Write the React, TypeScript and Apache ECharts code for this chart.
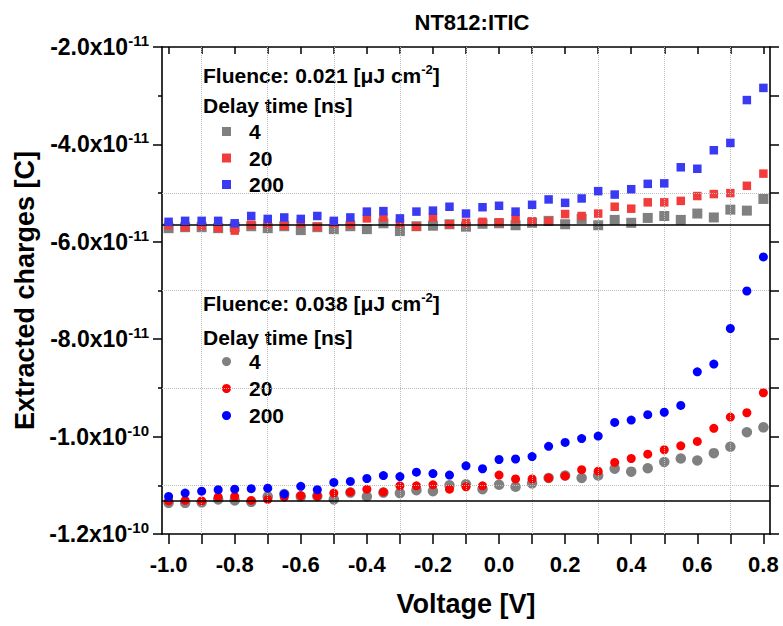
import React, { useEffect, useRef } from "react";
import * as echarts from "echarts";

const FONT = '"Liberation Sans", Arial, Helvetica, sans-serif';

// Voltage [V]
const VOLTAGE = [-1.0, -0.95, -0.9, -0.85, -0.8, -0.75, -0.7, -0.65, -0.6, -0.55, -0.5, -0.45, -0.4, -0.35, -0.3, -0.25, -0.2, -0.15, -0.1, -0.05, 0.0, 0.05, 0.1, 0.15, 0.2, 0.25, 0.3, 0.35, 0.4, 0.45, 0.5, 0.55, 0.6, 0.65, 0.7, 0.75, 0.8];

// Extracted charges, in units of 1e-11 C
// Fluence 0.021 µJ cm^-2 (squares)
const SQ_4 = [-5.72, -5.70, -5.70, -5.72, -5.70, -5.68, -5.72, -5.68, -5.76, -5.70, -5.74, -5.68, -5.74, -5.62, -5.78, -5.68, -5.67, -5.64, -5.69, -5.63, -5.62, -5.66, -5.61, -5.57, -5.64, -5.53, -5.66, -5.55, -5.61, -5.51, -5.47, -5.55, -5.42, -5.50, -5.34, -5.36, -5.12];
const SQ_20 = [-5.66, -5.70, -5.67, -5.72, -5.77, -5.65, -5.63, -5.67, -5.62, -5.69, -5.62, -5.64, -5.52, -5.50, -5.62, -5.69, -5.50, -5.64, -5.61, -5.59, -5.60, -5.53, -5.58, -5.58, -5.43, -5.47, -5.42, -5.28, -5.32, -5.19, -5.19, -5.16, -5.06, -5.02, -5.00, -4.85, -4.60];
const SQ_200 = [-5.59, -5.57, -5.57, -5.57, -5.62, -5.47, -5.53, -5.50, -5.53, -5.47, -5.57, -5.50, -5.38, -5.37, -5.52, -5.38, -5.36, -5.28, -5.42, -5.29, -5.26, -5.38, -5.24, -5.13, -5.20, -5.11, -4.96, -5.03, -4.92, -4.81, -4.80, -4.47, -4.50, -4.12, -3.97, -3.09, -2.84];
// Fluence 0.038 µJ cm^-2 (circles)
const CI_4 = [-11.36, -11.36, -11.35, -11.29, -11.31, -11.34, -11.23, -11.18, -11.23, -11.22, -11.29, -11.15, -11.23, -11.15, -11.16, -11.10, -11.12, -11.00, -10.98, -11.08, -10.99, -11.03, -10.96, -10.85, -10.80, -10.85, -10.80, -10.66, -10.72, -10.65, -10.52, -10.45, -10.49, -10.34, -10.21, -9.91, -9.81];
const CI_20 = [-11.32, -11.31, -11.32, -11.24, -11.23, -11.31, -11.29, -11.24, -11.21, -11.22, -11.16, -11.14, -11.08, -11.14, -11.01, -11.01, -10.99, -11.08, -11.03, -11.01, -10.79, -10.87, -10.87, -10.85, -10.81, -10.68, -10.71, -10.53, -10.45, -10.36, -10.27, -10.19, -10.10, -9.83, -9.60, -9.51, -9.10];
const CI_200 = [-11.23, -11.16, -11.12, -11.09, -11.08, -11.07, -11.06, -11.18, -11.02, -11.09, -10.94, -10.92, -10.86, -10.80, -10.82, -10.73, -10.76, -10.79, -10.60, -10.66, -10.47, -10.46, -10.41, -10.20, -10.12, -10.04, -9.99, -9.71, -9.66, -9.55, -9.50, -9.36, -8.67, -8.51, -7.78, -7.01, -6.31];

// Reference (dark) levels
const BASELINES = [-5.66, -11.32];

// Axis ticks / labels
const X_LABELS = [-1.0, -0.8, -0.6, -0.4, -0.2, 0.0, 0.2, 0.4, 0.6, 0.8];
const X_TICKS = [-1.0, -0.9, -0.8, -0.7, -0.6, -0.5, -0.4, -0.3, -0.2, -0.1, 0.0, 0.1, 0.2, 0.3, 0.4, 0.5, 0.6, 0.7, 0.8];
const Y_LABELS = [
  { value: -12, mant: "-1.2", exp: "-10" },
  { value: -10, mant: "-1.0", exp: "-10" },
  { value: -8, mant: "-8.0", exp: "-11" },
  { value: -6, mant: "-6.0", exp: "-11" },
  { value: -4, mant: "-4.0", exp: "-11" },
  { value: -2, mant: "-2.0", exp: "-11" },
];
const GRID_X = [-0.9, -0.7, -0.5, -0.3, -0.1, 0.1, 0.3, 0.5, 0.7];
const GRID_Y = [-11, -9, -7, -5];

const LEGEND_TEXT: Record<string, string> = {
  S4: "4", S20: "20", S200: "200", C4: "4", C20: "20", C200: "200",
};

const GRAY = "#808080";
const RED_SQ = "#f23c3c";
const BLUE_SQ = "#3a3af2";
const RED_CI = "#ff0000";
const BLUE_CI = "#0000ff";

function pairs(ys: number[]) {
  return VOLTAGE.map((v, i) => [v, ys[i]]);
}

const labelFont = { fontFamily: FONT, fontWeight: "bold" as const, color: "#000" };
const AXIS_LINE = { show: true, onZero: false, lineStyle: { color: "#000", width: 1.6 } };

function buildOption(): any {
  const scatter = (name: string, ys: number[], symbol: string, size: number, color: string, z: number) => ({
    type: "scatter",
    name,
    data: pairs(ys),
    symbol,
    symbolSize: size,
    itemStyle: { color, opacity: 1 },
    z,
    clip: false,
  });
  const supRich = {
    a: { fontFamily: FONT, fontWeight: "bold", fontSize: 21, fill: "#000" },
    s: { fontFamily: FONT, fontWeight: "bold", fontSize: 13, fill: "#000", padding: [0, 0, 11, 0] },
  };
  return {
    animation: false,
    backgroundColor: "#ffffff",
    title: {
      text: "NT812:ITIC",
      left: 467,
      top: 6,
      textAlign: "center",
      textStyle: { ...labelFont, fontSize: 22 },
    },
    grid: { left: 162, right: 13, top: 47, bottom: 92, containLabel: false },
    xAxis: [
      {
        type: "value",
        position: "bottom",
        min: -1.02,
        max: 0.82,
        name: "Voltage [V]",
        nameLocation: "middle",
        nameGap: 56,
        nameTextStyle: { ...labelFont, fontSize: 27 },
        axisLine: AXIS_LINE,
        axisTick: { show: true, inside: false, length: 10, customValues: X_TICKS, lineStyle: { color: "#000", width: 1.5 } },
        axisLabel: {
          show: true,
          customValues: X_LABELS,
          margin: 19,
          formatter: (v: number) => v.toFixed(1),
          ...labelFont,
          fontSize: 22,
        },
        splitLine: { show: false },
      },
      {
        type: "value",
        position: "top",
        min: -1.02,
        max: 0.82,
        axisLine: AXIS_LINE,
        axisTick: { show: true, inside: true, length: 7, customValues: X_TICKS, lineStyle: { color: "#000", width: 1.5 } },
        axisLabel: { show: false },
        splitLine: { show: false },
      },
    ],
    yAxis: [
      {
        type: "value",
        position: "left",
        min: -12,
        max: -2,
        interval: 2,
        name: "Extracted charges [C]",
        nameLocation: "middle",
        nameGap: 117,
        nameRotate: 90,
        nameTextStyle: { ...labelFont, fontSize: 27 },
        axisLine: AXIS_LINE,
        axisTick: { show: true, inside: false, length: 9, lineStyle: { color: "#000", width: 1.5 } },
        minorTick: { show: true, splitNumber: 2, length: 4, lineStyle: { color: "#000", width: 1.5 } },
        axisLabel: {
          show: true,
          margin: 13,
          formatter: (v: number) => {
            const t = Y_LABELS.find((l) => Math.abs(l.value - v) < 1e-6);
            return t ? `{m|${t.mant}x10}{s|${t.exp}}` : "";
          },
          rich: {
            m: { fontFamily: FONT, fontWeight: "bold", fontSize: 23, color: "#000" },
            s: { fontFamily: FONT, fontWeight: "bold", fontSize: 15, color: "#000", padding: [0, 0, 13, 0] },
          },
        },
        splitLine: { show: false },
      },
      {
        type: "value",
        position: "right",
        min: -12,
        max: -2,
        interval: 1,
        axisLine: AXIS_LINE,
        axisTick: { show: true, inside: false, length: 9, lineStyle: { color: "#000", width: 1.5 } },
        axisLabel: { show: false },
        splitLine: { show: false },
      },
    ],
    legend: [
      {
        data: [
          { name: "S4", icon: "rect" },
          { name: "S20", icon: "rect" },
          { name: "S200", icon: "rect" },
        ],
        orient: "vertical",
        left: 222,
        top: 121,
        padding: 0,
        itemWidth: 9,
        itemHeight: 9,
        itemGap: 5.5,
        selectedMode: false,
        formatter: (n: string) => LEGEND_TEXT[n],
        textStyle: { ...labelFont, fontSize: 21, lineHeight: 21, padding: [0, 0, 0, 13] },
      },
      {
        data: [
          { name: "C4", icon: "circle" },
          { name: "C20", icon: "circle" },
          { name: "C200", icon: "circle" },
        ],
        orient: "vertical",
        left: 222,
        top: 351,
        padding: 0,
        itemWidth: 9,
        itemHeight: 9,
        itemGap: 6,
        selectedMode: false,
        formatter: (n: string) => LEGEND_TEXT[n],
        textStyle: { ...labelFont, fontSize: 21, lineHeight: 21, padding: [0, 0, 0, 13] },
      },
    ],
    graphic: [
      {
        type: "text",
        x: 203,
        y: 75,
        style: { text: "{a|Fluence: 0.021 [μJ cm}{s|-2}{a|]}", verticalAlign: "middle", align: "left", rich: supRich },
      },
      {
        type: "text",
        x: 203,
        y: 105,
        style: { text: "Delay time [ns]", verticalAlign: "middle", align: "left", fontFamily: FONT, fontWeight: "bold", fontSize: 21, fill: "#000" },
      },
      {
        type: "text",
        x: 203,
        y: 303,
        style: { text: "{a|Fluence: 0.038 [μJ cm}{s|-2}{a|]}", verticalAlign: "middle", align: "left", rich: supRich },
      },
      {
        type: "text",
        x: 203,
        y: 337,
        style: { text: "Delay time [ns]", verticalAlign: "middle", align: "left", fontFamily: FONT, fontWeight: "bold", fontSize: 21, fill: "#000" },
      },
    ],
    series: [
      {
        type: "line",
        name: "grid",
        data: [],
        z: 1,
        silent: true,
        markLine: {
          silent: true,
          symbol: "none",
          label: { show: false },
          lineStyle: { type: "dotted", color: "#bdbdbd", width: 1 },
          data: [...GRID_Y.map((y) => ({ yAxis: y })), ...GRID_X.map((x) => ({ xAxis: x }))],
        },
      },
      {
        type: "line",
        name: "baseline",
        data: [],
        z: 2,
        silent: true,
        markLine: {
          silent: true,
          symbol: "none",
          label: { show: false },
          lineStyle: { type: "solid", color: "#000", width: 1.5 },
          data: BASELINES.map((y) => ({ yAxis: y })),
        },
      },
      scatter("S4", SQ_4, "rect", 10, GRAY, 3),
      scatter("S20", SQ_20, "rect", 8.5, RED_SQ, 4),
      scatter("S200", SQ_200, "rect", 8.5, BLUE_SQ, 5),
      scatter("C4", CI_4, "circle", 10.5, GRAY, 3),
      scatter("C20", CI_20, "circle", 9, RED_CI, 4),
      scatter("C200", CI_200, "circle", 9, BLUE_CI, 5),
    ],
  };
}

export default function App() {
  const ref = useRef<HTMLDivElement>(null);
  useEffect(() => {
    if (!ref.current) return;
    const chart = echarts.init(ref.current, null, { renderer: "svg" });
    chart.setOption(buildOption());
    return () => chart.dispose();
  }, []);
  return (
    <div
      ref={ref}
      style={{ position: "absolute", left: 0, top: 0, width: 783, height: 626, background: "#fff" }}
    />
  );
}
